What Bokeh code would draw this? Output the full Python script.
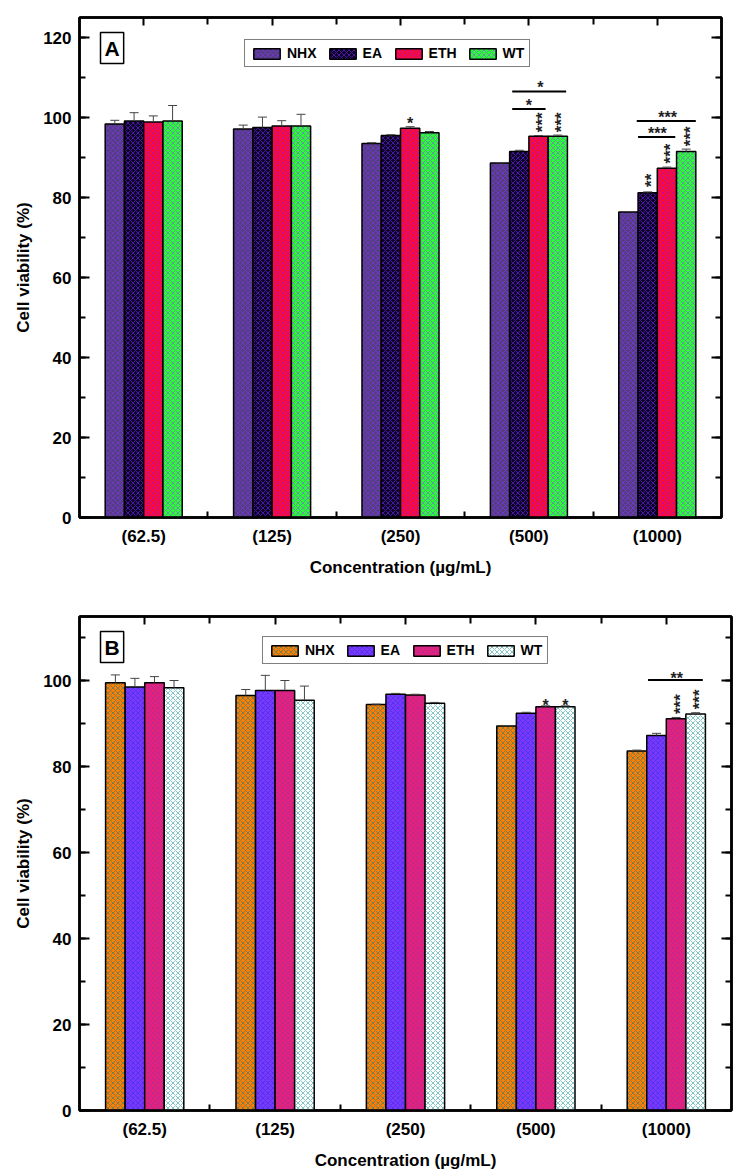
import math
from bokeh.plotting import figure
from bokeh.models import (ColumnDataSource, FixedTicker, LinearAxis, Range1d, Whisker, TeeHead,
                          Legend, LegendItem, Label, SingleIntervalTicker, CustomLabelingPolicy)
from bokeh.layouts import column
from bokeh.embed import file_html
from bokeh.resources import INLINE
from bokeh.core.properties import value

categories = ["(62.5)", "(125)", "(250)", "(500)", "(1000)"]
series = ["NHX", "EA", "ETH", "WT"]

# ---- Panel A ----
a_nhx = [98.4, 97.1, 93.5, 88.6, 76.4]
a_ea = [99.1, 97.5, 95.5, 91.5, 81.2]
a_eth = [98.9, 97.9, 97.3, 95.3, 87.3]
a_wt = [99.1, 97.9, 96.2, 95.3, 91.5]
a_nhx_err = [0.9, 1.0, 0.2, 0.1, 0.1]
a_ea_err = [2.1, 2.6, 0.2, 0.3, 0.2]
a_eth_err = [1.5, 1.3, 0.4, 0.2, 0.3]
a_wt_err = [3.9, 2.9, 0.3, 0.3, 0.6]

a_sig_h_x = [3.075, 4.0, 4.09, 5.0, 5.08]
a_sig_h_y = [99.6, 104.0, 108.4, 97.1, 101.1]
a_sig_h_text = ["*", "*", "*", "***", "***"]
a_sig_v_x = [4.075, 4.225, 4.925, 5.075, 5.225]
a_sig_v_y = [98.8, 98.8, 84.3, 91.0, 95.3]
a_sig_v_text = ["***", "***", "**", "***", "***"]
a_line_x0 = [3.87, 3.87, 4.85, 4.84]
a_line_x1 = [4.13, 4.29, 5.14, 5.30]
a_line_y = [102.1, 106.5, 95.1, 99.1]

# ---- Panel B ----
b_nhx = [99.6, 96.6, 94.5, 89.5, 83.7]
b_ea = [98.6, 97.8, 96.9, 92.5, 87.3]
b_eth = [99.6, 97.8, 96.7, 94.0, 91.2]
b_wt = [98.4, 95.5, 94.8, 94.0, 92.3]
b_nhx_err = [1.8, 1.4, 0.1, 0.1, 0.2]
b_ea_err = [2.0, 3.5, 0.2, 0.2, 0.5]
b_eth_err = [1.4, 2.3, 0.2, 0.2, 0.3]
b_wt_err = [1.7, 3.3, 0.2, 0.2, 0.3]

b_sig_h_x = [4.075, 4.225, 5.08]
b_sig_h_y = [95.3, 95.3, 101.6]
b_sig_h_text = ["*", "*", "**"]
b_sig_v_x = [5.075, 5.225]
b_sig_v_y = [94.6, 95.7]
b_sig_v_text = ["***", "***"]
b_line_x0 = [4.86]
b_line_x1 = [5.28]
b_line_y = [100.2]

FONT = "Liberation Sans"
offsets = [-0.225, -0.075, 0.075, 0.225]
bar_w = 0.15

a_styles = [
    dict(fill_color="#52407e", hatch_color="#8a2cff"),
    dict(fill_color="#0a0424", hatch_color="#7a1cff"),
    dict(fill_color="#ff0a30", hatch_color="#a010d0"),
    dict(fill_color="#28ff30", hatch_color="#9050f0"),
]
b_styles = [
    dict(fill_color="#ff7e00", hatch_color="#20808a"),
    dict(fill_color="#7a38ff", hatch_color="#3a30d8"),
    dict(fill_color="#e82078", hatch_color="#9a30a8"),
    dict(fill_color="#ffffff", hatch_color="#30a0a0"),
]

no_labels = CustomLabelingPolicy(code="""
for (const i of Array.from(indices)) { indices.unset(i) }
return indices
""")


def make_panel(vals, errs, styles, ymax, letter, fw, fh, bl, bt, bb, br, legend_loc,
               sig_h, sig_v, lines, letter_pos):
    p = figure(frame_width=fw, frame_height=fh, x_range=Range1d(0.5, 5.5),
               y_range=Range1d(0, ymax), output_backend="svg", toolbar_location=None,
               min_border_left=bl, min_border_top=bt, min_border_bottom=bb, min_border_right=br,
               background_fill_color="white", border_fill_color="white")
    p.grid.visible = False
    p.outline_line_color = "black"
    p.outline_line_width = 2.5

    renderers = []
    for k, name in enumerate(series):
        xs = [i + 1 + offsets[k] for i in range(len(categories))]
        src = ColumnDataSource(dict(x=xs, top=vals[k],
                                    upper=[v + e for v, e in zip(vals[k], errs[k])]))
        r = p.vbar(x="x", top="top", width=bar_w, bottom=0, source=src,
                   line_color="black", line_width=1.5,
                   hatch_pattern="diagonal_cross", hatch_scale=5, hatch_weight=0.6,
                   **styles[k])
        renderers.append(r)
        w = Whisker(base="x", upper="upper", lower="top", source=src, line_color="#444444",
                    line_width=1, upper_head=TeeHead(size=9, line_color="#444444", line_width=1),
                    lower_head=None, level="annotation")
        p.add_layout(w)

    # axes
    xax = p.xaxis[0]
    xax.ticker = FixedTicker(ticks=[1, 2, 3, 4, 5], minor_ticks=[1.5, 2.5, 3.5, 4.5])
    xax.major_label_overrides = {i + 1: c for i, c in enumerate(categories)}
    xax.major_tick_in = 0
    xax.major_tick_out = 0
    xax.minor_tick_in = 6
    xax.minor_tick_out = 0
    xax.axis_label = "Concentration (\u00b5g/mL)"

    yax = p.yaxis[0]
    yax.ticker = SingleIntervalTicker(interval=20, num_minor_ticks=2)
    yax.major_tick_in = 10
    yax.major_tick_out = 0
    yax.minor_tick_in = 6
    yax.minor_tick_out = 0
    yax.axis_label = "Cell viability (%)"

    for ax in (xax, yax):
        ax.axis_line_width = 2.5
        ax.major_tick_line_width = 2
        ax.minor_tick_line_width = 2
        ax.major_label_text_font = FONT
        ax.major_label_text_font_style = "bold"
        ax.major_label_text_font_size = "17px"
        ax.major_label_text_color = "black"
        ax.axis_label_text_font = FONT
        ax.axis_label_text_font_style = "bold"
        ax.axis_label_text_font_size = "17px"
        ax.axis_label_text_color = "black"
    xax.major_label_standoff = 9
    xax.axis_label_standoff = 9
    yax.major_label_standoff = 8
    yax.axis_label_standoff = 7

    top = LinearAxis(ticker=FixedTicker(ticks=[1, 2, 3, 4, 5], minor_ticks=[1.5, 2.5, 3.5, 4.5]),
                     major_tick_in=8, major_tick_out=0, minor_tick_in=7, minor_tick_out=0,
                     major_label_policy=no_labels, major_label_standoff=0,
                     axis_line_width=2.5, major_tick_line_width=2, minor_tick_line_width=2)
    p.add_layout(top, "above")
    right = LinearAxis(ticker=SingleIntervalTicker(interval=20, num_minor_ticks=2),
                       major_tick_in=10, major_tick_out=0, minor_tick_in=6, minor_tick_out=0,
                       major_label_policy=no_labels, major_label_standoff=0,
                       axis_line_width=2.5, major_tick_line_width=2, minor_tick_line_width=2)
    p.add_layout(right, "right")

    # significance marks
    lx0, lx1, ly = lines
    p.segment(x0=lx0, y0=ly, x1=lx1, y1=ly, line_color="black", line_width=2)
    hx, hy, ht = sig_h
    p.text(x=hx, y=hy, text=ht, text_align="center", text_baseline="middle", y_offset=4,
           text_font=value(FONT), text_font_style="bold", text_font_size="16px",
           text_color="#222222")
    vx, vy, vt = sig_v
    p.text(x=vx, y=vy, text=vt, angle=math.pi / 2, text_align="center",
           text_baseline="middle", x_offset=4,
           text_font=value(FONT), text_font_style="bold", text_font_size="17px",
           text_color="#222222")

    legend = Legend(items=[LegendItem(label=s, renderers=[r]) for s, r in zip(series, renderers)],
                    orientation="horizontal", location=legend_loc,
                    border_line_color="black", border_line_width=1, padding=5, spacing=9,
                    glyph_width=33, glyph_height=13, label_height=15, label_standoff=4,
                    label_text_font=FONT, label_text_font_style="bold",
                    label_text_font_size="14px", label_text_color="black", margin=0)
    p.add_layout(legend)

    lab = Label(x=letter_pos[0], y=letter_pos[1], x_units="screen", y_units="screen", text=letter,
                text_font=FONT, text_font_style="bold", text_font_size="21px",
                text_align="left", text_baseline="top", text_color="black",
                border_line_color="black", border_line_width=1.5,
                background_fill_color="white", padding=4)
    p.add_layout(lab)
    return p


pA = make_panel([a_nhx, a_ea, a_eth, a_wt], [a_nhx_err, a_ea_err, a_eth_err, a_wt_err],
                a_styles, 125, "A", 642, 500, 79, 17, 73, 10, (165, 450),
                (a_sig_h_x, a_sig_h_y, a_sig_h_text), (a_sig_v_x, a_sig_v_y, a_sig_v_text),
                (a_line_x0, a_line_x1, a_line_y), (21, 485))
pB = make_panel([b_nhx, b_ea, b_eth, b_wt], [b_nhx_err, b_ea_err, b_eth_err, b_wt_err],
                b_styles, 115, "B", 652, 494, 73, 26, 60, 10, (183, 446),
                (b_sig_h_x, b_sig_h_y, b_sig_h_text), (b_sig_v_x, b_sig_v_y, b_sig_v_text),
                (b_line_x0, b_line_x1, b_line_y), (21, 479))

layout = column(pA, pB, spacing=0)
open("out.html", "w").write(file_html(layout, INLINE))
